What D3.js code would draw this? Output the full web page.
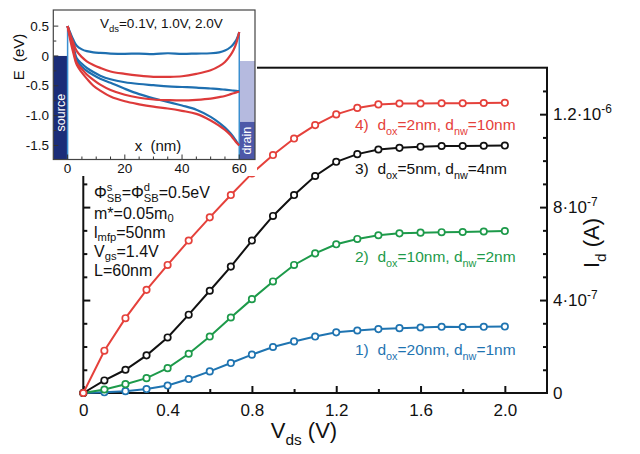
<!DOCTYPE html>
<html><head><meta charset="utf-8">
<script src="https://cdn.jsdelivr.net/npm/d3@7"></script>
<style>
body{margin:0;background:#fff}
svg{display:block}
text{font-family:"Liberation Sans",Arial,Helvetica,sans-serif;white-space:pre}
</style>
</head><body>
<svg id="c" width="640" height="454"></svg>
<script>
// ---------- main chart data (Id in units of 1e-7 A) ----------
const vds = [0,0.1,0.2,0.3,0.4,0.5,0.6,0.7,0.8,0.9,1.0,1.1,1.2,1.3,1.4,1.5,1.6,1.7,1.8,1.9,2.0];
const id1 = [0,0.03,0.08,0.17,0.32,0.60,0.93,1.29,1.65,1.98,2.22,2.43,2.61,2.69,2.75,2.79,2.82,2.85,2.84,2.85,2.86];
const id2 = [0,0.15,0.38,0.64,1.07,1.69,2.43,3.25,4.04,4.80,5.51,6.01,6.40,6.63,6.79,6.87,6.90,6.92,6.93,6.95,6.97];
const id3 = [0,0.54,1.00,1.62,2.39,3.37,4.40,5.44,6.56,7.62,8.52,9.34,9.95,10.28,10.48,10.55,10.60,10.63,10.63,10.64,10.65];
const id4 = [0,1.82,3.22,4.44,5.51,6.56,7.56,8.52,9.45,10.24,10.95,11.53,11.99,12.27,12.42,12.46,12.46,12.47,12.47,12.48,12.49];
const seriesNames = ["1)", "2)", "3)", "4)"];
const seriesDox = ["20nm","10nm","5nm","2nm"];
const seriesDnw = ["1nm","2nm","4nm","10nm"];
const xTicksMajor = [0,0.4,0.8,1.2,1.6,2.0];
const xTickLabels = ["0","0.4","0.8","1.2","1.6","2.0"];
const xTicksMinor = [0.2,0.6,1.0,1.4,1.8];
const yTicksMajor = [0,4,8,12];
const yTickMant = ["0","4\u00b710","8\u00b710","1.2\u00b710"];
const yTickExp = ["","-7","-7","-6"];
const yTicksMinor = [1,2,3,5,6,7,9,10,11,13];
const params = ["m*=0.05m|0","l|mfp|=50nm","V|gs|=1.4V","L=60nm"];

// ---------- inset data (band energies, eV vs x in nm) ----------
const xa = [0,1,2,3.2,5,6.7,9,11.4,15,20,25,30,35,40,45,50,53,55,57,58,59,60];
const eBlue1 = [0.5,0.38,0.27,0.17,0.11,0.08,0.06,0.05,0.04,0.035,0.04,0.03,0.045,0.035,0.04,0.045,0.06,0.09,0.15,0.2,0.27,0.4];
const eRed1  = [0.5,0.35,0.22,0.08,-0.02,-0.09,-0.15,-0.2,-0.26,-0.3,-0.33,-0.35,-0.35,-0.34,-0.3,-0.24,-0.17,-0.1,0.02,0.1,0.22,0.4];
const eBlue2 = [0.5,0.33,0.17,-0.04,-0.13,-0.2,-0.27,-0.33,-0.39,-0.44,-0.47,-0.49,-0.51,-0.52,-0.53,-0.545,-0.555,-0.565,-0.575,-0.58,-0.585,-0.59];
const eRed2  = [0.5,0.3,0.12,-0.12,-0.22,-0.31,-0.4,-0.48,-0.57,-0.65,-0.7,-0.73,-0.74,-0.745,-0.735,-0.715,-0.69,-0.67,-0.64,-0.625,-0.61,-0.6];
const eBlue3 = [0.5,0.3,0.12,-0.08,-0.18,-0.25,-0.32,-0.38,-0.45,-0.55,-0.64,-0.71,-0.77,-0.83,-0.9,-1.02,-1.12,-1.2,-1.3,-1.36,-1.43,-1.5];
const eRed3  = [0.5,0.25,0.05,-0.15,-0.28,-0.38,-0.5,-0.58,-0.68,-0.76,-0.81,-0.85,-0.88,-0.92,-0.97,-1.08,-1.17,-1.24,-1.33,-1.39,-1.45,-1.5];
const insetYTicks = [0.5,0,-0.5,-1.0,-1.5];
const insetYLabels = ["0.5","0","-0.5","-1.0","-1.5"];
const insetYMinor = [0.25,-0.25,-0.75,-1.25];
const insetXTicks = [0,20,40,60];
const insetXLabels = ["0","20","40","60"];
const insetXMinor = [5,10,15,25,30,35,45,50,55];

const FONT = '"Liberation Sans",Arial,Helvetica,sans-serif';
const svg = d3.select("#c");
svg.append("rect").attr("width",640).attr("height",454).attr("fill","#fff");

function rich(parent, x, y, segs, fs, color, anchor, subK) {
  const g = parent.append("g");
  let cx = 0;
  const small = fs * 0.7;
  const sk = subK || 0.3;
  segs.forEach(s => {
    if (typeof s === "string") s = {t: s};
    if (s.stack) {
      const a = g.append("text").attr("x", cx).attr("y", -fs*0.42).attr("font-size", small).attr("fill", color).text(s.stack[0]);
      const b = g.append("text").attr("x", cx).attr("y", fs*0.24).attr("font-size", small).attr("fill", color).text(s.stack[1]);
      cx += Math.max(a.node().getComputedTextLength(), b.node().getComputedTextLength());
    } else {
      const dy = s.sub ? fs*sk : (s.sup ? -fs*0.42 : 0);
      const t = g.append("text").attr("x", cx).attr("y", dy)
        .attr("font-size", (s.sub || s.sup) ? small : fs).attr("fill", color).text(s.t);
      cx += t.node().getComputedTextLength();
    }
  });
  const ox = anchor === "middle" ? -cx/2 : anchor === "end" ? -cx : 0;
  g.attr("transform", `translate(${x+ox},${y})`);
  return g;
}

// ---------- main chart ----------
const X0 = 83.3, X1 = 547, Y0 = 393, Y1 = 67.7;
const x = d3.scaleLinear([0, 2.2], [X0, X1]);
const y = d3.scaleLinear([0, 14], [Y0, Y1]);

const axisStyle = g => { g.select(".domain").remove(); g.selectAll("line").attr("stroke","#111").attr("stroke-width",2); };

svg.append("g").attr("transform",`translate(0,${Y0})`)
  .call(d3.axisBottom(x).tickValues(xTicksMinor).tickSize(-4).tickSizeOuter(0).tickFormat(""))
  .call(axisStyle);
svg.append("g").attr("transform",`translate(0,${Y0})`)
  .call(d3.axisBottom(x).tickValues(xTicksMajor).tickSize(-7).tickSizeOuter(0).tickPadding(11).tickFormat((d,i)=>xTickLabels[i]))
  .call(axisStyle)
  .call(g => g.selectAll("text").attr("font-size",17).attr("font-family",FONT).attr("fill","#111"));

[[d3.axisLeft, X0], [d3.axisRight, X1]].forEach(([ax, px]) => {
  svg.append("g").attr("transform",`translate(${px},0)`)
    .call(ax(y).tickValues(yTicksMinor).tickSize(-4).tickSizeOuter(0).tickFormat("")).call(axisStyle);
  svg.append("g").attr("transform",`translate(${px},0)`)
    .call(ax(y).tickValues(yTicksMajor.slice(1)).tickSize(-7).tickSizeOuter(0).tickFormat("")).call(axisStyle);
});

svg.append("rect").attr("x",X0).attr("y",Y1).attr("width",X1-X0).attr("height",Y0-Y1)
  .attr("fill","none").attr("stroke","#111").attr("stroke-width",2);

yTicksMajor.forEach((v,i) => {
  const segs = [yTickMant[i]];
  if (yTickExp[i]) segs.push({t: yTickExp[i], sup: true});
  rich(svg, X1 + 6, y(v) + 6, segs, 17, "#111", "start");
});

// series
const colors = ["#1f74b1", "#1d9a4a", "#111111", "#e5413b"];
const series = [id1, id2, id3, id4];
const line = d3.line().x((d,i)=>x(vds[i])).y(d=>y(d));
series.forEach((s, k) => {
  svg.append("path").datum(s).attr("d", line).attr("fill","none")
    .attr("stroke", colors[k]).attr("stroke-width", 2);
  svg.append("g").selectAll("circle").data(s).join("circle")
    .attr("cx",(d,i)=>x(vds[i])).attr("cy",d=>y(d)).attr("r",3.2)
    .attr("fill","#fff").attr("stroke",colors[k]).attr("stroke-width",1.7);
});

// series labels
const labelY = [355, 262, 174, 130];
series.forEach((s,k) => {
  rich(svg, 355, labelY[k], [seriesNames[k] + "  d", {t:"ox",sub:true}, "=" + seriesDox[k] + ", d", {t:"nw",sub:true}, "=" + seriesDnw[k]], 15.5, colors[k], "start");
});

// parameter annotation
rich(svg, 94, 198, ["\u03a6", {stack:["s","SB"]}, "=\u03a6", {stack:["d","SB"]}, "=0.5eV"], 16, "#111", "start");
params.forEach((p, i) => {
  const parts = p.split("|");
  const segs = parts.map((t, j) => j % 2 === 1 ? {t, sub:true} : t);
  rich(svg, 94, 218.5 + i*19.2, segs, 16, "#111", "start", 0.2);
});

// axis titles
rich(svg, 304, 438, ["V", {t:"ds", sub:true}, " (V)"], 22, "#111", "middle");
const rt = svg.append("g").attr("transform","translate(599,243) rotate(-90)");
rich(rt, 0, 0, ["I", {t:"d", sub:true}, " (A)"], 22, "#111", "middle");

// ---------- inset ----------
const IX0 = 53.3, IX1 = 255, IY0 = 159.5, IY1 = 10;
const ix = d3.scaleLinear([-5, 65.5], [IX0, IX1]);
const iy = d3.scaleLinear([-1.735, 0.77], [IY0, IY1]);
const inset = svg.append("g");
inset.append("rect").attr("x",0).attr("y",0).attr("width",257).attr("height",176).attr("fill","#fff");

// source / drain
inset.append("rect").attr("x",ix(-5)).attr("y",iy(0)).attr("width",ix(0)-ix(-5)).attr("height",iy(-1.735)-iy(0)).attr("fill","#1b2d78");
inset.append("rect").attr("x",ix(60)).attr("y",iy(-0.085)).attr("width",ix(65.5)-ix(60)).attr("height",iy(-1.105)-iy(-0.085)).attr("fill","#b5badf");
inset.append("rect").attr("x",ix(60)).attr("y",iy(-1.105)).attr("width",ix(65.5)-ix(60)).attr("height",iy(-1.735)-iy(-1.105)).attr("fill","#4d58a8");
inset.append("line").attr("x1",ix(0)).attr("x2",ix(0)).attr("y1",iy(0.5)).attr("y2",iy(-1.735)).attr("stroke","#3a8fd0").attr("stroke-width",1.5);
inset.append("line").attr("x1",ix(60)).attr("x2",ix(60)).attr("y1",iy(0.4)).attr("y2",iy(-1.735)).attr("stroke","#3a8fd0").attr("stroke-width",1.5);
inset.append("text").attr("transform",`translate(${ix(-2.5)+4.2},${iy(-0.95)}) rotate(-90)`).attr("text-anchor","middle")
  .attr("font-size",12.5).attr("fill","#fff").text("source");
inset.append("text").attr("transform",`translate(${ix(62.75)+4.2},${iy(-1.42)}) rotate(-90)`).attr("text-anchor","middle")
  .attr("font-size",12.5).attr("fill","#fff").text("drain");

// curves
const iline = d3.line().x((d,i)=>ix(xa[i])).y(d=>iy(d)).curve(d3.curveCatmullRom);
const insetCurves = [[eBlue1,"#1e6fb0"],[eBlue2,"#1e6fb0"],[eBlue3,"#1e6fb0"],[eRed1,"#dd3a3a"],[eRed2,"#dd3a3a"],[eRed3,"#dd3a3a"]];
insetCurves.forEach(([e,c]) => {
  inset.append("path").datum(e).attr("d", iline).attr("fill","none").attr("stroke",c).attr("stroke-width",2.2);
});

// inset frame and ticks
const tk = (x1,y1,x2,y2) => inset.append("line").attr("x1",x1).attr("y1",y1).attr("x2",x2).attr("y2",y2).attr("stroke","#333").attr("stroke-width",1);
insetYTicks.forEach((v,i) => {
  tk(IX0, iy(v), IX0+5, iy(v));
  inset.append("text").attr("x",49).attr("y",iy(v)+4.7).attr("text-anchor","end").attr("font-size",13.5).attr("fill","#111").text(insetYLabels[i]);
});
insetYMinor.forEach(v => tk(IX0, iy(v), IX0+3, iy(v)));
insetXTicks.forEach((v,i) => {
  tk(ix(v), IY0, ix(v), IY0-5);
  inset.append("text").attr("x",ix(v)).attr("y",173).attr("text-anchor","middle").attr("font-size",13.5).attr("fill","#111").text(insetXLabels[i]);
});
insetXMinor.forEach(v => tk(ix(v), IY0, ix(v), IY0-3));
inset.append("rect").attr("x",IX0).attr("y",IY1).attr("width",IX1-IX0).attr("height",IY0-IY1)
  .attr("fill","none").attr("stroke","#444").attr("stroke-width",1.2);

rich(inset, 158, 151, ["x  (nm)"], 15, "#111", "middle");
const el = inset.append("g").attr("transform","translate(24,57) rotate(-90)");
rich(el, 0, 0, ["E  (eV)"], 15, "#111", "middle");
rich(inset, 100, 28, ["V", {t:"ds",sub:true}, "=0.1V, 1.0V, 2.0V"], 13.5, "#111", "start");
</script>
</body></html>
